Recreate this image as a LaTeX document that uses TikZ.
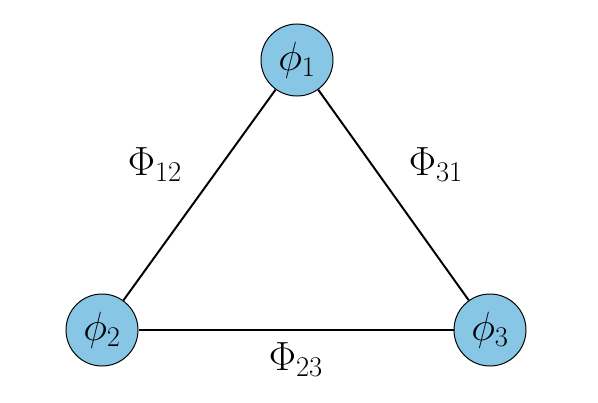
\RequirePackage{fix-cm}
\documentclass[tikz,border=0pt]{standalone}
\usepackage{amsmath}
\usetikzlibrary{positioning}
\definecolor{fieldblue}{HTML}{87C6E5}
\tikzset{
  field/.style={circle,draw=black,line width=0.7pt,fill=fieldblue,minimum size=1.8cm,inner sep=0pt,font=\fontsize{29}{33}\selectfont},
  coupling/.style={font=\fontsize{29}{33}\selectfont,inner sep=1pt},
  link/.style={draw=black,line width=1.4pt},
}
\begin{document}
\begin{tikzpicture}[x=0.025cm,y=-0.025cm]
  \useasboundingbox (0,0) rectangle (598,402);
  \node[field] (p1) at (297,60) {$\phi_1$};
  \node[field] (p2) at (102,330) {$\phi_2$};
  \node[field] (p3) at (490,330) {$\phi_3$};
  \node[coupling] (c12) at (155,165) {$\Phi_{12}$};
  \node[coupling] (c31) at (436,165) {$\Phi_{31}$};
  \node[coupling] (c23) at (296,360) {$\Phi_{23}$};
  \draw[link](p1)--(p2);\draw[link](p2)--(p3);\draw[link](p3)--(p1);
\end{tikzpicture}
\end{document}
